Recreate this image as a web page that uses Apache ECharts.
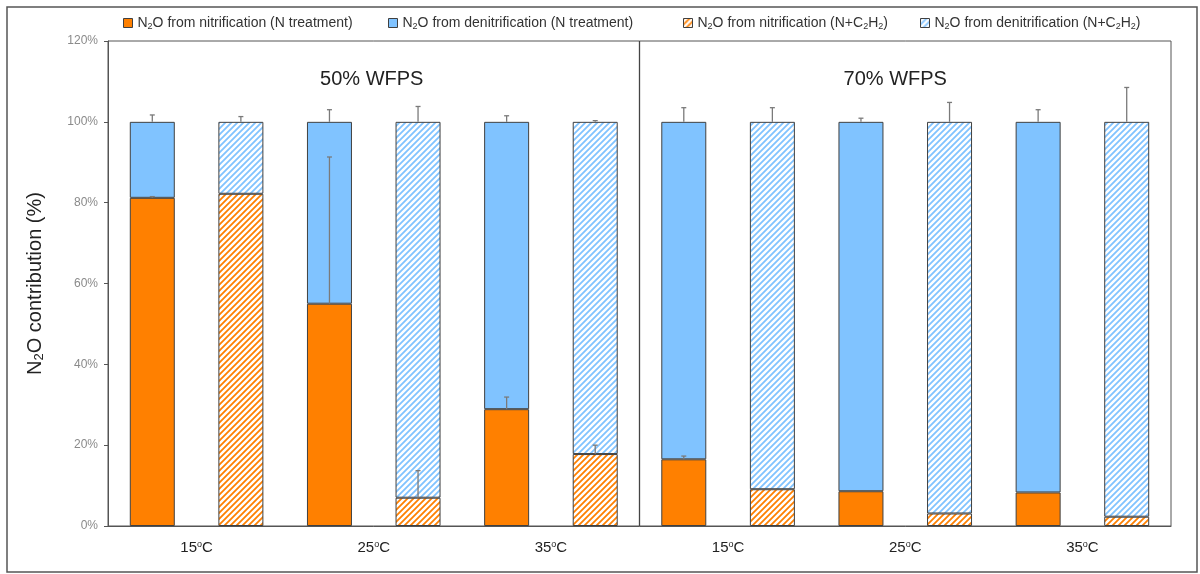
<!DOCTYPE html>
<html>
<head>
<meta charset="utf-8">
<script src="https://cdn.jsdelivr.net/npm/echarts@6/dist/echarts.min.js"></script>
<style>
  html, body { margin: 0; padding: 0; background: #fff; }
  #chart { width: 1200px; height: 574px; }
</style>
</head>
<body>
<div id="chart"></div>
<script>
// Temperature groups: 50% WFPS (15, 25, 35 °C) then 70% WFPS (15, 25, 35 °C)
const temperatures = ['15', '25', '35', '15', '25', '35'];
const panels = ['50% WFPS', '70% WFPS'];

// N treatment: share of N2O (%) from nitrification / denitrification
const nitrifN = [81.2, 55.0, 28.9, 16.5, 8.6, 8.3];
const denitN  = [18.8, 45.0, 71.1, 83.5, 91.4, 91.7];
// N + C2H2 treatment
const nitrifC = [82.2, 7.0, 17.8, 9.1, 3.1, 2.3];
const denitC  = [17.8, 93.0, 82.2, 90.9, 96.9, 97.7];

// Error bars (upper side only)
const errNitrifN = [0.3, 36.3, 3.0, 0.8, 0, 0];
const errNitrifC = [0, 6.7, 2.2, 0, 0, 0];
const errTotalN  = [1.7, 3.0, 1.5, 3.5, 0.9, 3.0];
const errTotalC  = [1.3, 3.8, 0.3, 3.5, 4.8, 8.5];

const yTicks = { min: 0, max: 120, interval: 20 };

const ORANGE = '#FF8000';
const BLUE = '#80C3FF';
const EDGE = '#404040';
const FONT = 'Liberation Sans, Arial, sans-serif';

// 12 bar slots: each temperature has an N bar followed by an N+C2H2 bar
const slots = [];
temperatures.forEach((t, i) => { slots.push(i + 'N', i + 'C'); });
const spread = (arr, offset) => slots.map((s, k) => (k % 2 === offset ? arr[Math.floor(k / 2)] : '-'));

function hatch(color) {
  const s = 6;
  const c = document.createElement('canvas');
  c.width = s; c.height = s;
  const ctx = c.getContext('2d');
  ctx.fillStyle = '#ffffff';
  ctx.fillRect(0, 0, s, s);
  ctx.strokeStyle = color;
  ctx.lineWidth = 1.8;
  ctx.beginPath();
  ctx.moveTo(0, s); ctx.lineTo(s, 0);
  ctx.moveTo(-1, 1); ctx.lineTo(1, -1);
  ctx.moveTo(s - 1, s + 1); ctx.lineTo(s + 1, s - 1);
  ctx.stroke();
  return { image: c, repeat: 'repeat' };
}

const names = [
  'N2O from nitrification (N treatment)',
  'N2O from denitrification (N treatment)',
  'N2O from nitrification (N+C2H2)',
  'N2O from denitrification (N+C2H2)'
];
const legendLeft = [118, 383, 678, 915];
const legendRich = {
  t: { fontSize: 14, color: '#333', fontFamily: FONT },
  s: { fontSize: 9, color: '#333', fontFamily: FONT, padding: [7, 0, 0, 0] }
};
function legendText(name) {
  // render every "2" that follows N, C or H as a subscript
  const parts = name.split(/(?<=[NCH])2/);
  return parts.map(p => '{t|' + p + '}').join('{s|2}');
}

// error bar points: [slot, base, err]
const errData = [];
temperatures.forEach((t, i) => {
  errData.push([2 * i, nitrifN[i], errNitrifN[i]]);
  errData.push([2 * i + 1, nitrifC[i], errNitrifC[i]]);
  errData.push([2 * i, nitrifN[i] + denitN[i], errTotalN[i]]);
  errData.push([2 * i + 1, nitrifC[i] + denitC[i], errTotalC[i]]);
});

const barBase = {
  type: 'bar',
  stack: 'share',
  barWidth: 45,
  xAxisIndex: 0,
  emphasis: { disabled: true }
};

const chart = echarts.init(document.getElementById('chart'), null, { renderer: 'canvas' });

chart.setOption({
  animation: false,
  backgroundColor: '#fff',
  grid: {
    left: 108, right: 29, top: 41, bottom: 48,
    show: true, borderColor: '#555', borderWidth: 1
  },
  legend: names.map((n, i) => ({
    top: 11, left: legendLeft[i],
    icon: 'rect',
    itemWidth: 9, itemHeight: 9, itemGap: 0,
    selectedMode: false,
    data: [n],
    formatter: legendText,
    textStyle: { rich: legendRich },
    itemStyle: { borderColor: EDGE, borderWidth: 1 }
  })),
  xAxis: [
    {
      type: 'category', data: slots, position: 'bottom',
      axisLine: { show: true, lineStyle: { color: '#555' } },
      axisTick: { show: false }, axisLabel: { show: false }
    },
    {
      type: 'category', data: temperatures, position: 'bottom',
      axisLine: { show: false }, axisTick: { show: false },
      axisLabel: {
        margin: 14,
        formatter: v => '{n|' + v + '}{s|o}{n|C}',
        rich: {
          n: { fontSize: 15, color: '#222', fontFamily: FONT },
          s: { fontSize: 9, color: '#222', fontFamily: FONT, padding: [0, 0, 7, 0] }
        }
      }
    }
  ],
  yAxis: {
    type: 'value', min: yTicks.min, max: yTicks.max, interval: yTicks.interval,
    name: '{t|N}{s|2}{t|O contribution (%)}',
    nameLocation: 'middle', nameGap: 62, nameRotate: 90,
    nameTextStyle: {
      rich: {
        t: { fontSize: 20, color: '#222', fontFamily: FONT },
        s: { fontSize: 13, color: '#222', fontFamily: FONT, padding: [9, 0, 0, 0] }
      }
    },
    axisLine: { show: true, lineStyle: { color: '#555' } },
    axisTick: { show: true, length: 4, lineStyle: { color: '#555' } },
    splitLine: { show: false },
    axisLabel: {
      formatter: '{value}%', color: '#8a8a8a', fontSize: 12, margin: 10,
      fontFamily: FONT
    }
  },
  series: [
    Object.assign({}, barBase, { name: names[0], data: spread(nitrifN, 0), itemStyle: { color: ORANGE, borderColor: EDGE, borderWidth: 1 } }),
    Object.assign({}, barBase, { name: names[1], data: spread(denitN, 0), itemStyle: { color: BLUE, borderColor: EDGE, borderWidth: 1 } }),
    Object.assign({}, barBase, { name: names[2], data: spread(nitrifC, 1), itemStyle: { color: hatch(ORANGE), borderColor: EDGE, borderWidth: 1 } }),
    Object.assign({}, barBase, { name: names[3], data: spread(denitC, 1), itemStyle: { color: hatch(BLUE), borderColor: EDGE, borderWidth: 1 } }),
    {
      type: 'custom',
      xAxisIndex: 0,
      z: 10,
      silent: true,
      data: errData,
      renderItem: function (params, api) {
        const x = api.value(0), base = api.value(1), err = api.value(2);
        if (!err) return null;
        const p0 = api.coord([x, base]);
        const p1 = api.coord([x, base + err]);
        const style = { stroke: '#7a7a7a', lineWidth: 1.3 };
        return {
          type: 'group',
          children: [
            { type: 'line', shape: { x1: p0[0], y1: p0[1], x2: p1[0], y2: p1[1] }, style: style },
            { type: 'line', shape: { x1: p1[0] - 2.5, y1: p1[1], x2: p1[0] + 2.5, y2: p1[1] }, style: style }
          ]
        };
      }
    }
  ]
});

// panel divider and panel headings, positioned from the axis scale
function decorate() {
  const px = i => chart.convertToPixel({ xAxisIndex: 0 }, i);
  const step = px(1) - px(0);
  const divX = (px(5) + px(6)) / 2;
  const topY = chart.convertToPixel({ yAxisIndex: 0 }, yTicks.max);
  const botY = chart.convertToPixel({ yAxisIndex: 0 }, yTicks.min);
  const leftEdge = px(0) - step / 2;
  const rightEdge = px(11) + step / 2;
  chart.setOption({
    graphic: [
      { type: 'rect', shape: { x: 7, y: 7, width: 1190, height: 565 }, style: { fill: 'none', stroke: '#555', lineWidth: 1.5 }, silent: true },
      { type: 'line', shape: { x1: divX, y1: topY, x2: divX, y2: botY }, style: { stroke: '#444', lineWidth: 1.3 }, silent: true },
      { type: 'text', x: (leftEdge + divX) / 2 - 2, y: 79, style: { text: panels[0], font: '20px "Liberation Sans", Arial, sans-serif', fill: '#222', align: 'center', verticalAlign: 'middle' }, silent: true },
      { type: 'text', x: (divX + rightEdge) / 2 - 10, y: 79, style: { text: panels[1], font: '20px "Liberation Sans", Arial, sans-serif', fill: '#222', align: 'center', verticalAlign: 'middle' }, silent: true }
    ]
  });
}
decorate();
</script>
</body>
</html>
